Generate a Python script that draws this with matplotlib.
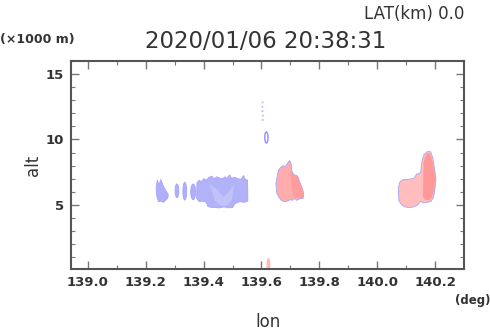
import numpy as np
import matplotlib
matplotlib.use("Agg")
import matplotlib.pyplot as plt
from matplotlib.patches import Polygon, Ellipse

# echo outlines (lon [deg], alt [km])
blue_a_lon = [139.236, 139.240, 139.246, 139.252, 139.258, 139.264, 139.272, 139.278, 139.276, 139.270, 139.262, 139.252, 139.244, 139.238]
blue_a_alt = [6.3, 6.9, 6.5, 6.95, 6.6, 6.3, 6.0, 5.8, 5.5, 5.4, 5.2, 5.3, 5.25, 5.7]

# small blue cells: centre lon, centre alt, width, height
cell_lon = [139.308, 139.335, 139.364]
cell_alt = [6.08, 6.05, 6.0]
cell_w = [0.013, 0.013, 0.017]
cell_h = [1.05, 1.35, 1.2]

blue_main_lon = [139.376, 139.377, 139.385, 139.392, 139.400, 139.410, 139.418, 139.428, 139.436, 139.446,
                 139.455, 139.466, 139.474, 139.480, 139.490, 139.496, 139.508, 139.520, 139.530, 139.538,
                 139.544, 139.552, 139.553, 139.540, 139.525, 139.508, 139.500, 139.485, 139.470, 139.455,
                 139.440, 139.425, 139.414, 139.410, 139.395, 139.385]
blue_main_alt = [5.5, 6.7, 6.9, 6.75, 7.0, 6.9, 7.1, 7.2, 7.0, 7.15,
                 7.05, 7.0, 7.15, 7.0, 7.3, 7.05, 7.1, 7.0, 6.95, 7.25,
                 6.95, 6.9, 5.3, 5.2, 5.25, 5.1, 4.8, 4.78, 4.85, 4.78,
                 4.8, 4.82, 4.9, 5.2, 5.3, 5.25]
# lighter patches inside the main blue echo
blue_light_lon = [139.420, 139.445, 139.470, 139.490, 139.505, 139.498, 139.480, 139.462, 139.440]
blue_light_alt = [6.6, 6.2, 5.6, 6.1, 6.6, 5.4, 4.95, 4.9, 5.3]

blue_streak_lon = [139.604, 139.603, 139.605, 139.604]
blue_streak_alt = [12.9, 12.3, 11.8, 11.3]
oval_lon, oval_alt, oval_w, oval_h = 139.617, 10.15, 0.011, 0.85

red1_lon = [139.653, 139.650, 139.655, 139.660, 139.668, 139.675, 139.682, 139.690, 139.698, 139.703,
            139.705, 139.712, 139.722, 139.727, 139.735, 139.742, 139.746, 139.744, 139.738, 139.730,
            139.722, 139.715, 139.708, 139.700, 139.690, 139.680, 139.668, 139.660]
red1_alt = [5.9, 6.6, 7.3, 7.7, 7.9, 8.0, 7.9, 8.2, 8.4, 8.1,
            7.6, 7.3, 7.25, 7.1, 6.6, 6.2, 5.9, 5.5, 5.5, 5.45,
            5.35, 5.5, 5.35, 5.4, 5.3, 5.25, 5.35, 5.6]
red1_core_lon = [139.700, 139.712, 139.722, 139.727, 139.735, 139.742, 139.744, 139.730, 139.712, 139.704]
red1_core_alt = [7.6, 7.3, 7.25, 7.1, 6.6, 6.2, 5.6, 5.5, 5.6, 6.4]

red_low_lon = [139.617, 139.618, 139.622, 139.628, 139.631, 139.630]
red_low_alt = [0.1, 0.7, 0.95, 0.9, 0.5, 0.1]

red2_lon = [140.075, 140.073, 140.078, 140.090, 140.105, 140.120, 140.128, 140.136, 140.145, 140.150,
            140.155, 140.162, 140.175, 140.185, 140.192, 140.198, 140.203, 140.200, 140.195, 140.185,
            140.170, 140.160, 140.150, 140.140, 140.125, 140.110, 140.095, 140.085]
red2_alt = [5.3, 6.3, 6.75, 6.95, 6.95, 7.0, 7.05, 7.35, 7.4, 7.5,
            8.4, 8.85, 9.1, 9.05, 8.6, 7.8, 7.0, 6.3, 5.6, 5.25,
            5.2, 5.15, 5.3, 5.0, 4.85, 4.8, 4.85, 5.0]
red2_core_lon = [140.158, 140.160, 140.168, 140.178, 140.188, 140.196, 140.200, 140.197, 140.190, 140.178, 140.165]
red2_core_alt = [5.6, 8.2, 8.8, 9.0, 8.6, 7.8, 7.0, 6.2, 5.6, 5.35, 5.4]

xticks = [139.0, 139.2, 139.4, 139.6, 139.8, 140.0, 140.2]
yticks = [5, 10, 15]

fig = plt.figure(figsize=(4.9, 3.31), dpi=100)
ax = fig.add_axes([0.145, 0.187, 0.947 - 0.145, 0.816 - 0.187])

edge = '#a4a4ff'

def blob(lon, alt, fc, ec=edge, z=2):
    ax.add_patch(Polygon(np.column_stack([lon, alt]), closed=True, facecolor=fc,
                         edgecolor=ec, linewidth=0.6, zorder=z))

blob(blue_a_lon, blue_a_alt, '#b0b0fa')
for cx, cy, w, h in zip(cell_lon, cell_alt, cell_w, cell_h):
    ax.add_patch(Ellipse((cx, cy), w, h, facecolor='#b0b0fa', edgecolor=edge, linewidth=0.6))
blob(blue_main_lon, blue_main_alt, '#b2b2f8')
blob(blue_light_lon, blue_light_alt, '#c2c2fb', ec='none', z=3)
ax.plot(blue_streak_lon, blue_streak_alt, color='#b4b4ff', linewidth=1.2, linestyle=':')
ax.add_patch(Ellipse((oval_lon, oval_alt), oval_w, oval_h, facecolor='white', edgecolor='#9090ff', linewidth=1.0))

blob(red1_lon, red1_alt, '#ffacac')
blob(red1_core_lon, red1_core_alt, '#ff9c9c', ec='none', z=3)
blob(red_low_lon, red_low_alt, '#ffbaba', ec='none')
blob(red2_lon, red2_alt, '#ffbdbd')
blob(red2_core_lon, red2_core_alt, '#ff9898', ec='none', z=3)

ax.set_xlim(138.942, 140.275)
ax.set_ylim(0.1, 16.0)
ax.set_xticks(xticks)
ax.set_xticklabels(['%.1f' % v for v in xticks])
ax.set_xticks(np.arange(139.1, 140.3, 0.2), minor=True)
ax.set_yticks(yticks)
ax.set_yticks(np.arange(1, 17, 1), minor=True)

ax.tick_params(which='both', direction='in', top=True, right=True, color='#777777',
               labelcolor='#333333')
ax.tick_params(which='major', length=6, width=1.0, labelsize=9.5, pad=5)
ax.tick_params(which='minor', length=3, width=0.8)
for lab in ax.get_xticklabels() + ax.get_yticklabels():
    lab.set_fontweight('bold')
for s in ax.spines.values():
    s.set_color('#555555')
    s.set_linewidth(1.5)

fig.text(0.947, 0.958, 'LAT(km) 0.0', ha='right', va='center', fontsize=12, color='#333333')
fig.text(0.542, 0.875, '2020/01/06 20:38:31', ha='center', va='center', fontsize=16.5, color='#333333')
fig.text(0.0, 0.88, '(×1000 m)', ha='left', va='center', fontsize=9, fontweight='bold', color='#333333')
fig.text(0.067, 0.50, 'alt', ha='center', va='center', rotation=90, fontsize=12, color='#333333')
fig.text(0.547, 0.027, 'lon', ha='center', va='center', fontsize=12, color='#333333')
fig.text(1.0, 0.093, '(deg)', ha='right', va='center', fontsize=8.5, fontweight='bold', color='#333333')

fig.savefig('out.png', dpi=100)
